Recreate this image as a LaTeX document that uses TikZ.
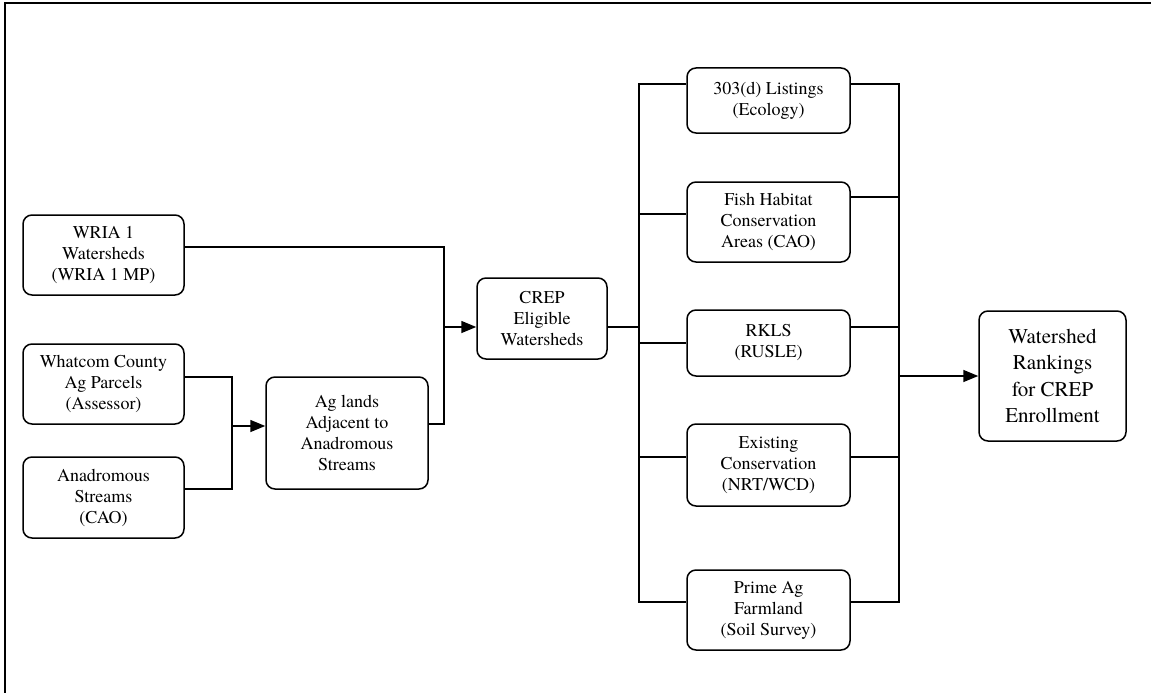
\documentclass[tikz,border=0pt]{standalone}
\usepackage{fontspec}
\setmainfont{texgyretermes-regular.otf}
\usetikzlibrary{arrows.meta,calc}
\begin{document}
\begin{tikzpicture}[x=1pt,y=-1pt,
  box/.style={draw, line width=1.5pt, rounded corners=9pt, align=center, inner sep=0pt,
    font=\fontsize{18}{21}\selectfont},
  bigbox/.style={box, font=\fontsize{21}{26.5}\selectfont},
  conn/.style={line width=1.5pt},
  arr/.style={conn, -{Triangle[length=15pt,width=12pt]}}]
\useasboundingbox (0,0) rectangle (1151,693);
\draw[line width=2.2pt] (5,693) -- (5,3) -- (1151,3);

% left column
\node[box, minimum width=161pt, minimum height=80pt] (wria) at (103.5,255) {WRIA 1\\Watersheds\\(WRIA 1 MP)};
\node[box, minimum width=161pt, minimum height=80pt] (whatcom) at (103.5,384) {Whatcom County\\Ag Parcels\\(Assessor)};
\node[box, minimum width=161pt, minimum height=81pt] (anad) at (103.5,497.5) {Anadromous\\Streams\\(CAO)};
\node[box, minimum width=162pt, minimum height=112pt] (ag) at (347,433) {Ag lands\\Adjacent to\\Anadromous\\Streams};
\node[box, minimum width=130pt, minimum height=81pt] (crep) at (542,318.5) {CREP\\Eligible\\Watersheds};

% criteria column
\node[box, minimum width=163pt, minimum height=65pt] (d303) at (768.5,100.5) {303(d) Listings\\(Ecology)};
\node[box, minimum width=163pt, minimum height=80pt] (fish) at (768.5,222) {Fish Habitat\\Conservation\\Areas (CAO)};
\node[box, minimum width=163pt, minimum height=66pt] (rkls) at (768.5,343) {RKLS\\(RUSLE)};
\node[box, minimum width=163pt, minimum height=82pt] (exist) at (768.5,465) {Existing\\Conservation\\(NRT/WCD)};
\node[box, minimum width=163pt, minimum height=80pt] (prime) at (768.5,610) {Prime Ag\\Farmland\\(Soil Survey)};

\node[bigbox, minimum width=147pt, minimum height=130pt] (ws) at (1052.5,376) {Watershed\\Rankings\\for CREP\\Enrollment};

% bus x positions
\coordinate (xa) at (232,0);
\coordinate (xb) at (444,0);
\coordinate (xl) at (639,0);
\coordinate (xr) at (899,0);

% attachment points
\coordinate (agin) at ([yshift=7pt]ag.west);
\coordinate (agout) at ([yshift=9pt]ag.east);
\coordinate (crepin) at ([yshift=-8.5pt]crep.west);
\coordinate (crepout) at ([yshift=-8.5pt]crep.east);
\coordinate (wsin) at (ws.west);

% left merges
\draw[conn] ([yshift=7pt]whatcom.east) -| (xa |- 0,489) -- ([yshift=8.5pt]anad.east);
\draw[arr] (xa |- agin) -- (agin);
\draw[conn] ([yshift=8pt]wria.east) -| (xb |- agout) -- (agout);
\draw[arr] (xb |- crepin) -- (crepin);

% left bus
\draw[conn] (crepout) -- (xl |- crepout);
\draw[conn] ([yshift=16.5pt]d303.west) -| (xl |- 0,602) -- ([yshift=8pt]prime.west);
\draw[conn] (xl |- 0,214) -- ([yshift=8pt]fish.west);
\draw[conn] (xl |- rkls.west) -- (rkls.west);
\draw[conn] (xl |- 0,457) -- ([yshift=8pt]exist.west);

% right bus
\draw[conn] ([yshift=16.5pt]d303.east) -| (xr |- 0,602) -- ([yshift=8pt]prime.east);
\draw[conn] ([yshift=25pt]fish.east) -- (xr |- 0,197);
\draw[conn] ([yshift=16pt]rkls.east) -- (xr |- 0,327);
\draw[conn] ([yshift=8pt]exist.east) -- (xr |- 0,457);
\draw[arr] (xr |- wsin) -- (wsin);
\end{tikzpicture}
\end{document}
